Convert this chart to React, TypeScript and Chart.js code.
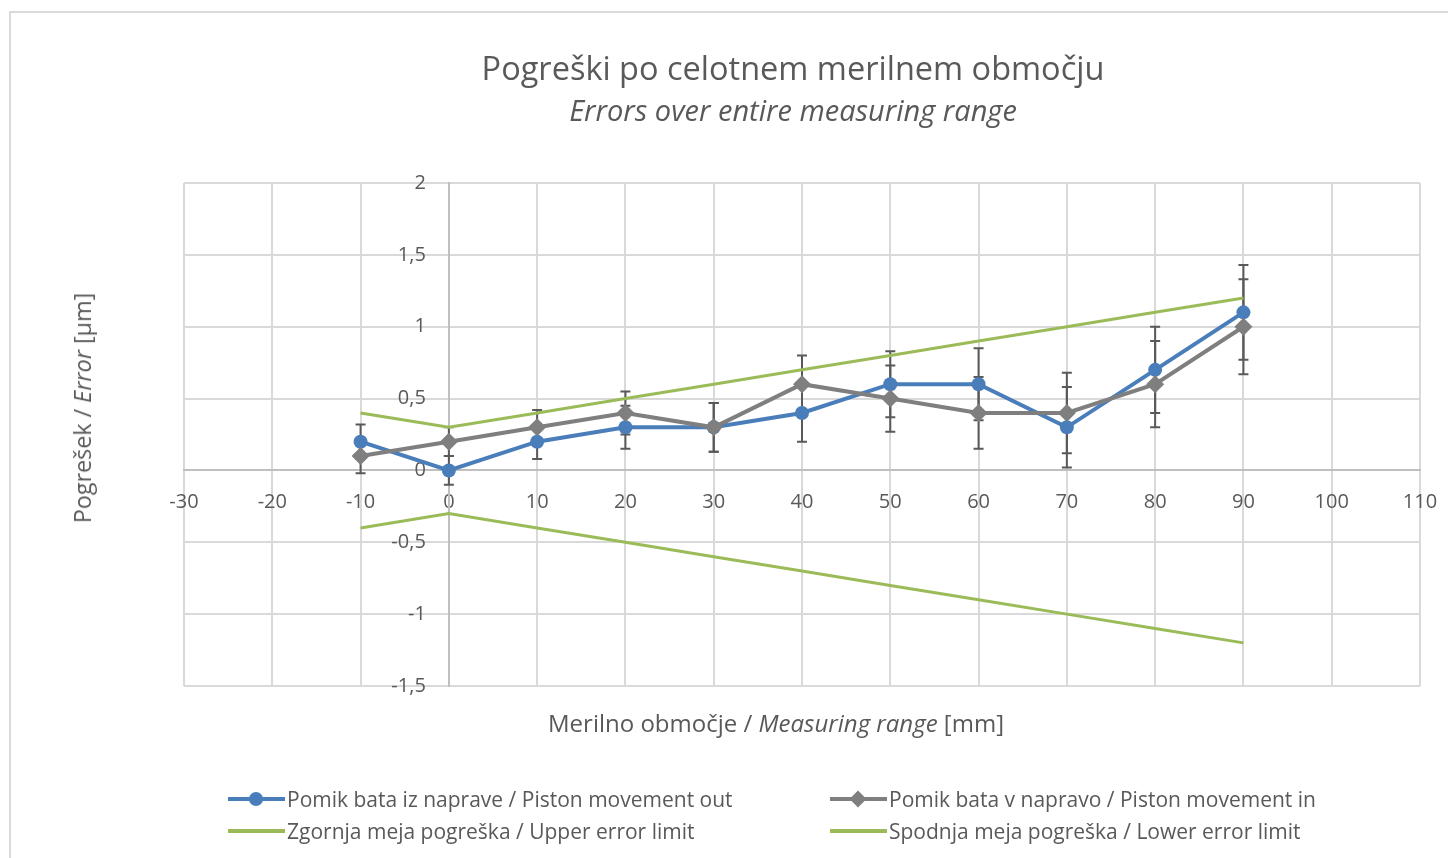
import React, { useEffect, useRef } from 'react';
import { Chart, registerables } from 'chart.js';

Chart.register(...registerables);

// ---- data ----
const xValues = [-10, 0, 10, 20, 30, 40, 50, 60, 70, 80, 90];
const outValues = [0.2, 0, 0.2, 0.3, 0.3, 0.4, 0.6, 0.6, 0.3, 0.7, 1.1];
const inValues = [0.1, 0.2, 0.3, 0.4, 0.3, 0.6, 0.5, 0.4, 0.4, 0.6, 1.0];
const errOut = [0.12, 0.1, 0.12, 0.15, 0.17, 0.2, 0.23, 0.25, 0.28, 0.3, 0.33];
const errIn = [0.12, 0.1, 0.12, 0.15, 0.17, 0.2, 0.23, 0.25, 0.28, 0.3, 0.33];
const upperLimit = [0.4, 0.3, 0.4, 0.5, 0.6, 0.7, 0.8, 0.9, 1.0, 1.1, 1.2];
const lowerLimit = [-0.4, -0.3, -0.4, -0.5, -0.6, -0.7, -0.8, -0.9, -1.0, -1.1, -1.2];

const seriesNames = [
  'Pomik bata iz naprave / Piston movement out',
  'Pomik bata v napravo / Piston movement in',
  'Zgornja meja pogreška / Upper error limit',
  'Spodnja meja pogreška / Lower error limit',
];

const xMin = -30;
const xMax = 110;
const xStep = 10;
const yMin = -1.5;
const yMax = 2;
const yStep = 0.5;

const FONT = "'Open Sans', sans-serif";
const TEXT = '#595959';
const BLUE = '#4a7ebb';
const GRAY = '#7f7f7f';
const GREEN = '#9bbb59';

const toPoints = (ys: number[]) => ys.map((y, i) => ({ x: xValues[i], y }));

function LegendItem({ left, top, color, marker, text }: any) {
  return (
    <div style={{ position: 'absolute', left, top, height: 32, display: 'flex', alignItems: 'center' }}>
      <div style={{ position: 'relative', width: 57, height: 32, marginRight: 2 }}>
        <div style={{ position: 'absolute', left: 0, right: 0, top: 14, height: 4, background: color }} />
        {marker === 'circle' && (
          <div style={{ position: 'absolute', left: 21, top: 9, width: 14, height: 14, borderRadius: 7, background: color }} />
        )}
        {marker === 'diamond' && (
          <div style={{ position: 'absolute', left: 22, top: 10, width: 12, height: 12, background: color, transform: 'rotate(45deg)' }} />
        )}
      </div>
      <span style={{ fontFamily: FONT, fontSize: 21, color: TEXT, whiteSpace: 'nowrap' }}>{text}</span>
    </div>
  );
}

export default function App() {
  const ref = useRef<HTMLCanvasElement>(null);

  useEffect(() => {
    if (!ref.current) return;
    const errorBars = {
      id: 'errorBars',
      beforeDatasetsDraw(chart: any) {
        const { ctx, scales } = chart;
        const x = scales.x;
        const y = scales.y;
        ctx.save();
        ctx.strokeStyle = '#595959';
        ctx.lineWidth = 2;
        const draw = (vals: number[], errs: number[]) => {
          vals.forEach((v, i) => {
            const px = x.getPixelForValue(xValues[i]);
            const top = y.getPixelForValue(v + errs[i]);
            const bot = y.getPixelForValue(v - errs[i]);
            ctx.beginPath();
            ctx.moveTo(px, top);
            ctx.lineTo(px, bot);
            ctx.moveTo(px - 5, top);
            ctx.lineTo(px + 5, top);
            ctx.moveTo(px - 5, bot);
            ctx.lineTo(px + 5, bot);
            ctx.stroke();
          });
        };
        draw(outValues, errOut);
        draw(inValues, errIn);
        ctx.restore();
      },
    };

    // y tick labels of an axis placed at x = 0 get no padding in Chart.js; shift them left
    const yLabelGap = {
      id: 'yLabelGap',
      beforeDraw(chart: any) {
        const s = chart.scales.y;
        const items = s.getLabelItems(chart.chartArea);
        items.forEach((it: any) => {
          if (!it._shifted) {
            it.options.translation[0] -= 23;
            it._shifted = true;
          }
        });
      },
    };

    const chart = new Chart(ref.current, {
      type: 'line',
      data: {
        datasets: [
          {
            label: seriesNames[0],
            data: toPoints(outValues),
            borderColor: BLUE,
            backgroundColor: BLUE,
            borderWidth: 4,
            pointStyle: 'circle',
            pointRadius: 7,
            pointBorderWidth: 0,
            order: 3,
          },
          {
            label: seriesNames[1],
            data: toPoints(inValues),
            borderColor: GRAY,
            backgroundColor: GRAY,
            borderWidth: 4,
            pointStyle: 'rectRot',
            pointRadius: 9,
            pointBorderWidth: 0,
            order: 2,
          },
          {
            label: seriesNames[2],
            data: toPoints(upperLimit),
            borderColor: GREEN,
            backgroundColor: GREEN,
            borderWidth: 3,
            pointRadius: 0,
            order: 1,
          },
          {
            label: seriesNames[3],
            data: toPoints(lowerLimit),
            borderColor: GREEN,
            backgroundColor: GREEN,
            borderWidth: 3,
            pointRadius: 0,
            order: 0,
          },
        ],
      },
      options: {
        responsive: false,
        animation: false,
        devicePixelRatio: 1,
        layout: { padding: { left: 184, right: 28, top: 183, bottom: 172 } },
        plugins: {
          legend: { display: false },
          title: { display: false },
          tooltip: { enabled: false },
        },
        scales: {
          x: {
            type: 'linear',
            min: xMin,
            max: xMax,
            position: { y: 0 } as any,
            afterFit: (s: any) => {
              s.paddingLeft = 0;
              s.paddingRight = 0;
            },
            ticks: {
              stepSize: xStep,
              color: TEXT,
              font: { family: FONT, size: 20 },
              padding: 20,
              maxRotation: 0,
            },
            grid: { color: '#d9d9d9', lineWidth: 2, drawTicks: false },
            border: { display: true, color: '#bfbfbf', width: 2 },
          },
          y: {
            type: 'linear',
            min: yMin,
            max: yMax,
            position: { x: 0 } as any,
            afterFit: (s: any) => {
              s.paddingTop = 0;
              s.paddingBottom = 0;
            },
            ticks: {
              stepSize: yStep,
              color: TEXT,
              font: { family: FONT, size: 20 },
              padding: 22,
              callback: (v: any) => String(v).replace('.', ','),
            },
            grid: { color: '#d9d9d9', lineWidth: 2, drawTicks: false },
            border: { display: true, color: '#bfbfbf', width: 2 },
          },
        },
      },
      plugins: [errorBars, yLabelGap],
    } as any);
    return () => chart.destroy();
  }, []);

  return (
    <div style={{ position: 'fixed', left: 0, top: 0, width: 1448, height: 858, background: '#fff', overflow: 'hidden' }}>
      <div style={{ position: 'absolute', left: 9, top: 11, width: 1600, height: 1000, border: '2px solid #d9d9d9' }} />
      <canvas ref={ref} width={1448} height={858} style={{ position: 'absolute', left: 0, top: 0 }} />
      <div style={{ position: 'absolute', left: 793, top: 67, transform: 'translate(-50%, -50%)', fontFamily: FONT, fontSize: 32.5, color: TEXT, whiteSpace: 'nowrap' }}>
        Pogreški po celotnem merilnem območju
      </div>
      <div style={{ position: 'absolute', left: 793, top: 109, transform: 'translate(-50%, -50%)', fontFamily: FONT, fontSize: 29, fontStyle: 'italic', color: TEXT, whiteSpace: 'nowrap' }}>
        Errors over entire measuring range
      </div>
      <div style={{ position: 'absolute', left: 776, top: 722, transform: 'translate(-50%, -50%)', fontFamily: FONT, fontSize: 24, color: TEXT, whiteSpace: 'nowrap' }}>
        Merilno območje / <i>Measuring range</i> [mm]
      </div>
      <div style={{ position: 'absolute', left: 82, top: 408, transform: 'translate(-50%, -50%) rotate(-90deg)', fontFamily: FONT, fontSize: 23.3, color: TEXT, whiteSpace: 'nowrap' }}>
        Pogrešek / <i>Error</i> [µm]
      </div>
      <LegendItem left={228} top={783} color={BLUE} marker="circle" text={seriesNames[0]} />
      <LegendItem left={830} top={783} color={GRAY} marker="diamond" text={seriesNames[1]} />
      <LegendItem left={228} top={815} color={GREEN} marker="none" text={seriesNames[2]} />
      <LegendItem left={830} top={815} color={GREEN} marker="none" text={seriesNames[3]} />
    </div>
  );
}
